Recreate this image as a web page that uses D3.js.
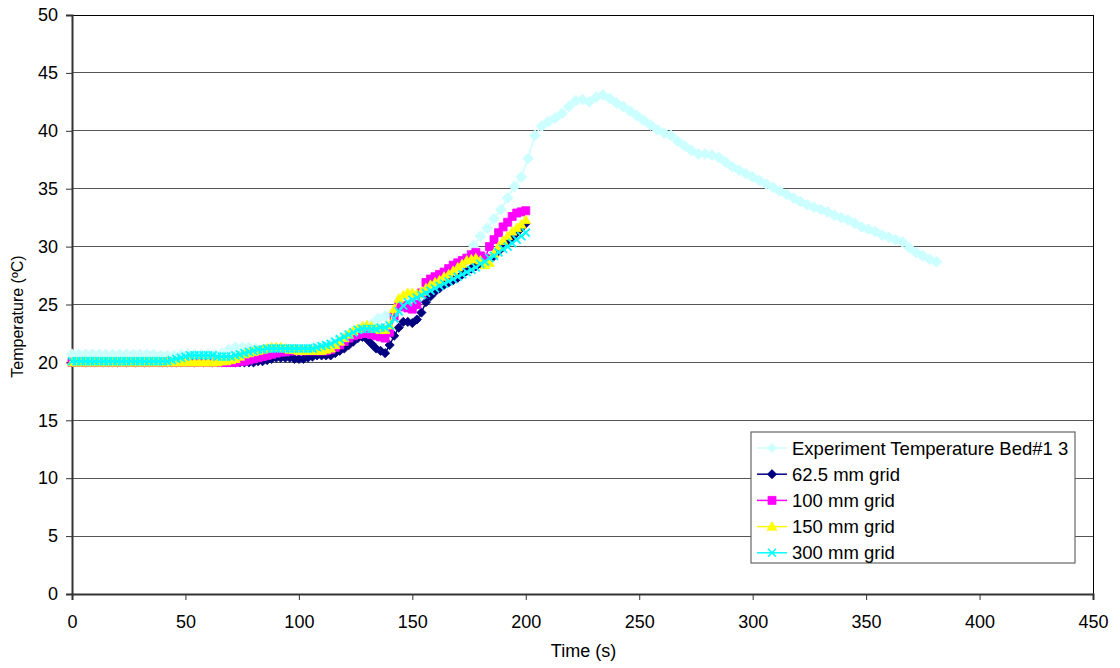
<!DOCTYPE html>
<html>
<head>
<meta charset="utf-8">
<script src="https://cdn.jsdelivr.net/npm/d3@7"></script>
<style>
  html, body { margin: 0; padding: 0; background: #fff; }
  svg { display: block; font-family: "Liberation Sans", Arial, sans-serif; }
</style>
</head>
<body>
<svg id="chart" width="1120" height="668"></svg>
<script>
// Temperature histories: measured bed temperature and four grid resolutions.
const xTicks = [0, 50, 100, 150, 200, 250, 300, 350, 400, 450];
const yTicks = [0, 5, 10, 15, 20, 25, 30, 35, 40, 45, 50];

// Measured temperature, sampled every 3 s
const expTime = [0,3,6,9,12,15,18,21,24,27,30,33,36,39,42,45,48,51,54,57,60,63,66,69,72,75,78,81,84,87,90,93,96,99,102,105,108,111,114,117,120,123,126,129,132,135,138,141,144,147,150,153,156,159,162,165,168,171,174,177,180,183,186,189,192,195,198,201,204,207,210,213,216,219,222,225,228,231,234,237,240,243,246,249,252,255,258,261,264,267,270,273,276,279,282,285,288,291,294,297,300,303,306,309,312,315,318,321,324,327,330,333,336,339,342,345,348,351,354,357,360,363,366,369,372,375,378,381];
const expTemp = [20.7,20.7,20.7,20.7,20.7,20.7,20.7,20.7,20.7,20.7,20.7,20.7,20.7,20.6,20.6,20.6,20.7,20.7,20.7,20.7,20.7,20.7,20.8,21.1,21.3,21.3,21.3,21.2,21.1,21.1,21.1,21.1,21.1,21.1,21.1,21.2,21.3,21.4,21.6,21.9,22.3,22.6,22.8,23.0,23.3,23.8,24.0,24.2,24.4,24.8,25.3,25.7,26.1,26.5,27.0,27.5,28.0,28.6,29.2,30.1,30.9,31.6,32.4,33.2,34.2,35.2,36.0,37.6,39.6,40.4,40.8,41.1,41.5,42.1,42.6,42.7,42.5,42.9,43.1,42.8,42.4,42.1,41.7,41.3,40.9,40.5,40.1,39.8,39.6,39.1,38.7,38.3,38.0,38.0,37.9,37.7,37.3,36.9,36.6,36.3,36.0,35.7,35.4,35.1,34.8,34.5,34.2,33.9,33.6,33.4,33.2,33.0,32.7,32.5,32.3,32.0,31.7,31.5,31.3,31.0,30.8,30.6,30.4,29.9,29.5,29.2,28.9,28.7];

// Simulated temperatures, sampled every 2 s from 0 to 200 s
const simTime = [0,2,4,6,8,10,12,14,16,18,20,22,24,26,28,30,32,34,36,38,40,42,44,46,48,50,52,54,56,58,60,62,64,66,68,70,72,74,76,78,80,82,84,86,88,90,92,94,96,98,100,102,104,106,108,110,112,114,116,118,120,122,124,126,128,130,132,134,136,138,140,142,144,146,148,150,152,154,156,158,160,162,164,166,168,170,172,174,176,178,180,182,184,186,188,190,192,194,196,198,200];

const grid62 = [20.0,20.0,20.0,20.0,20.0,20.0,20.0,20.0,20.0,20.0,20.0,20.0,20.0,20.0,20.0,20.0,20.0,20.0,20.0,20.0,20.0,20.0,20.0,20.0,20.0,20.0,20.0,20.0,20.0,20.0,20.0,20.0,20.0,20.0,20.0,
  20.0,20.0,20.0,20.0,20.0,20.0,20.1,20.1,20.2,20.3,20.4,20.4,20.4,20.4,20.3,20.3,20.3,20.4,20.5,20.6,20.6,20.6,20.6,20.8,21.0,21.2,21.5,21.8,22.1,22.2,22.0,21.6,21.2,21.0,20.8,21.5,22.3,23.0,23.5,23.5,23.4,23.7,24.3,25.2,25.7,26.1,26.4,26.7,26.9,27.1,27.3,27.6,27.9,28.1,28.3,28.5,28.7,28.9,29.2,29.6,30.0,30.4,30.8,31.2,31.6,32.0];

const grid100 = [20.0,20.0,20.0,20.0,20.0,20.0,20.0,20.0,20.0,20.0,20.0,20.0,20.0,20.0,20.0,20.0,20.0,20.0,20.0,20.0,20.0,20.0,20.0,20.0,20.0,20.0,20.0,20.0,20.0,20.0,20.0,20.0,20.0,20.0,20.0,
  20.0,20.0,20.1,20.1,20.2,20.3,20.4,20.5,20.6,20.7,20.8,20.9,20.9,21.0,21.0,21.0,21.0,21.0,21.0,21.0,21.0,21.0,21.1,21.3,21.5,21.8,22.1,22.3,22.4,22.5,22.5,22.4,22.3,22.2,22.1,22.6,24.0,24.8,24.9,24.7,24.6,25.0,26.0,26.9,27.2,27.4,27.6,27.8,28.1,28.4,28.6,28.8,29.0,29.3,29.5,29.2,29.0,30.0,30.6,31.2,31.7,32.1,32.6,32.9,33.0,33.1];

const grid150 = [20.0,20.0,20.0,20.0,20.0,20.0,20.0,20.0,20.0,20.0,20.0,20.0,20.0,20.0,20.0,20.0,20.0,20.0,20.0,20.0,20.0,20.0,20.0,20.0,20.0,20.0,20.0,20.0,20.0,20.0,20.0,
  20.0,20.0,20.1,20.1,20.2,20.3,20.5,20.7,20.8,20.9,21.0,21.1,21.2,21.3,21.3,21.3,21.2,21.1,21.1,21.0,21.0,21.0,21.0,21.0,21.0,21.1,21.2,21.5,21.8,22.1,22.4,22.7,22.9,23.1,23.2,23.1,22.9,22.8,22.8,23.2,24.6,25.5,25.8,26.0,26.0,25.9,26.1,26.4,26.7,26.9,27.1,27.4,27.6,27.9,28.2,28.5,28.8,28.9,29.0,28.8,28.4,28.6,29.4,30.0,30.5,30.9,31.3,31.6,31.9,32.3];

const grid300 = [20.1,20.1,20.1,20.1,20.1,20.1,20.1,20.1,20.1,20.1,20.1,20.1,20.1,20.1,20.1,20.1,20.1,20.1,20.1,20.1,20.1,20.1,
  20.2,20.3,20.4,20.5,20.6,20.6,20.6,20.6,20.6,20.6,20.5,20.5,20.5,20.5,20.6,20.7,20.8,20.9,21.0,21.1,21.1,21.2,21.2,21.2,21.2,21.2,21.2,21.2,21.2,21.2,21.2,21.2,21.3,21.4,21.5,21.6,21.8,22.0,22.2,22.4,22.6,22.8,22.9,22.9,22.9,22.9,23.0,23.0,23.2,23.8,24.4,24.9,25.2,25.4,25.6,25.8,26.0,26.2,26.4,26.6,26.8,27.0,27.2,27.4,27.6,27.8,28.0,28.2,28.5,28.7,29.0,29.2,29.5,29.8,30.0,30.3,30.6,30.9,31.2];

const seriesNames = ["Experiment Temperature Bed#1 3", "62.5 mm grid", "100 mm grid", "150 mm grid", "300 mm grid"];
const seriesColors = ["#CCFFFF", "#000080", "#FF00FF", "#FFFF00", "#00FFFF"];
const seriesShapes = ["diamondBig", "diamond", "square", "triangle", "cross"];

const series = [
  { t: expTime, v: expTemp },
  { t: simTime, v: grid62 },
  { t: simTime, v: grid100 },
  { t: simTime, v: grid150 },
  { t: simTime, v: grid300 }
].map((s, i) => ({
  name: seriesNames[i], color: seriesColors[i], shape: seriesShapes[i],
  points: s.t.map((t, k) => [t, s.v[k]])
}));

const svg = d3.select("#chart");
const margin = { left: 72, top: 15, right: 1093, bottom: 594 };
const FONT = 18;

const x = d3.scaleLinear().domain([0, 450]).range([margin.left, margin.right]);
const y = d3.scaleLinear().domain([0, 50]).range([margin.bottom, margin.top]);

// Horizontal gridlines
svg.append("g")
  .selectAll("line")
  .data(yTicks.filter(d => d > 0))
  .join("line")
  .attr("x1", margin.left).attr("x2", margin.right)
  .attr("y1", d => y(d)).attr("y2", d => y(d))
  .attr("stroke", d => d === 50 ? "#000" : "#555")
  .attr("stroke-width", 1)
  .attr("shape-rendering", "crispEdges");

// Right border of plot area
svg.append("line")
  .attr("x1", margin.right).attr("x2", margin.right)
  .attr("y1", margin.top).attr("y2", margin.bottom)
  .attr("stroke", "#000").attr("stroke-width", 1)
  .attr("shape-rendering", "crispEdges");

// Axes
const yAxis = d3.axisLeft(y).tickValues(yTicks).tickSize(6).tickPadding(8).tickFormat(d3.format("d"));
const xAxis = d3.axisBottom(x).tickValues(xTicks).tickSize(6).tickPadding(15).tickFormat(d3.format("d"));

const gy = svg.append("g").attr("transform", `translate(${margin.left},0)`).call(yAxis);
const gx = svg.append("g").attr("transform", `translate(0,${margin.bottom})`).call(xAxis);

[gx, gy].forEach(g => {
  g.select(".domain").attr("stroke", "#333").attr("stroke-width", 2);
  g.selectAll(".tick line").attr("stroke", "#333").attr("stroke-width", 1);
  g.selectAll(".tick text").attr("fill", "#000").attr("font-size", FONT)
    .attr("font-family", "'Liberation Sans', Arial, sans-serif");
});

// Marker shapes
function markerPath(shape) {
  switch (shape) {
    case "diamondBig": return "M0,-5.5L5.5,0L0,5.5L-5.5,0Z";
    case "diamond": return "M0,-4.6L4.6,0L0,4.6L-4.6,0Z";
    case "square": return "M-4,-4H4V4H-4Z";
    case "triangle": return "M0,-5L4.8,3.6H-4.8Z";
    case "cross": return "M-4,-4L4,4M4,-4L-4,4";
  }
}

const line = d3.line().x(d => x(d[0])).y(d => y(d[1]));

const plot = svg.append("g");
series.forEach(s => {
  const g = plot.append("g");
  g.append("path")
    .datum(s.points)
    .attr("d", line)
    .attr("fill", "none")
    .attr("stroke", s.color)
    .attr("stroke-width", 1.5);
  const isCross = s.shape === "cross";
  g.selectAll("path.m")
    .data(s.points)
    .join("path")
    .attr("class", "m")
    .attr("d", markerPath(s.shape))
    .attr("transform", d => `translate(${x(d[0])},${y(d[1])})`)
    .attr("fill", isCross ? "none" : s.color)
    .attr("stroke", s.color)
    .attr("stroke-width", isCross ? 1.8 : 0.8);
});

// Axis titles
svg.append("text")
  .attr("x", (margin.left + margin.right) / 2 + 1)
  .attr("y", 657)
  .attr("text-anchor", "middle")
  .attr("font-size", FONT)
  .text("Time (s)");

svg.append("text")
  .attr("transform", `translate(23,${(margin.top + margin.bottom) / 2 + 12}) rotate(-90)`)
  .attr("text-anchor", "middle")
  .attr("font-size", 16)
  .text("Temperature (ºC)");

// Legend
const legend = svg.append("g").attr("transform", "translate(751,432)");
legend.append("rect")
  .attr("x", 0).attr("y", 0).attr("width", 324).attr("height", 131)
  .attr("fill", "#fff").attr("stroke", "#666").attr("stroke-width", 1.2);

const rows = legend.selectAll("g.row")
  .data(series)
  .join("g")
  .attr("class", "row")
  .attr("transform", (d, i) => `translate(0,${16 + i * 26.2})`);

rows.append("line")
  .attr("x1", 6).attr("x2", 36).attr("y1", 0).attr("y2", 0)
  .attr("stroke", d => d.color).attr("stroke-width", 1.5);

rows.append("path")
  .attr("d", d => markerPath(d.shape === "diamondBig" ? "diamond" : d.shape))
  .attr("transform", "translate(21,0)")
  .attr("fill", d => d.shape === "cross" ? "none" : d.color)
  .attr("stroke", d => d.color)
  .attr("stroke-width", d => d.shape === "cross" ? 1.6 : 0.8);

rows.append("text")
  .attr("x", 41).attr("y", 0).attr("dy", "0.36em")
  .attr("font-size", 18.5)
  .text(d => d.name);
</script>
</body>
</html>
